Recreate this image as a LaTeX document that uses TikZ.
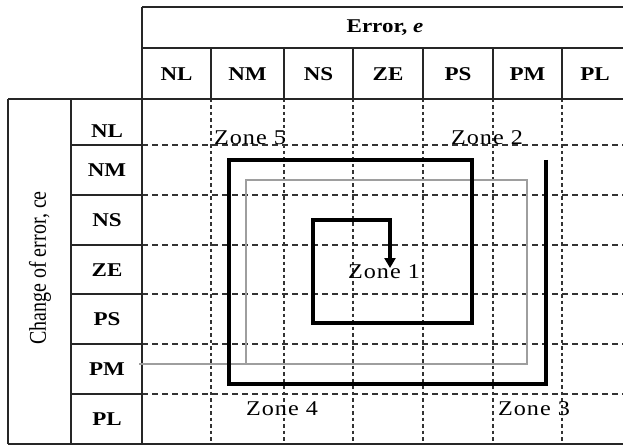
\documentclass[tikz,border=0pt]{standalone}
\usepackage{fontspec}
\setmainfont{Liberation Serif}
\newfontfamily\hdrfont[FakeStretch=1.18]{Liberation Serif}
\newfontfamily\zonefont[FakeStretch=1.15,LetterSpace=5]{Liberation Serif}
\usetikzlibrary{arrows.meta}
\begin{document}
\begin{tikzpicture}[x=1pt,y=-1pt,
  tbl/.style={draw=black!85, line width=1.5pt},
  hdash/.style={draw=black!80, line width=1.4pt, dash pattern=on 6pt off 4pt},
  vdash/.style={draw=black!80, line width=1.4pt, dash pattern=on 3.5pt off 3pt},
  spiralb/.style={draw=black, line width=3.2pt, line join=miter},
  spiralg/.style={draw=black!38, line width=2pt, line join=miter},
  hdr/.style={font=\hdrfont\bfseries\fontsize{19.5}{21}\selectfont, inner sep=0pt},
  zonelbl/.style={font=\zonefont\fontsize{21}{23}\selectfont, anchor=base, inner sep=0pt}]
\path[use as bounding box] (0,0) rectangle (623,446);
\clip (0,0) rectangle (623,446);
\fill[white] (0,0) rectangle (623,446);
% dashed grid
\foreach \y in {145,195,245,294,344,394} \draw[hdash] (142,\y) -- (630,\y);
\foreach \x in {211,284,353,423,493,562} \draw[vdash] (\x,99) -- (\x,444);
% table frame
\draw[tbl] (142,7) -- (630,7);
\draw[tbl] (142,48) -- (630,48);
\draw[tbl] (8,99) -- (630,99);
\draw[tbl] (8,444) -- (630,444);
\draw[tbl] (142,7) -- (142,444);
\draw[tbl] (8,99) -- (8,444);
\draw[tbl] (71,99) -- (71,444);
\foreach \x in {211,284,353,423,493,562} \draw[tbl] (\x,48) -- (\x,99);
\foreach \y in {145,195,245,294,344,394} \draw[tbl] (71,\y) -- (142,\y);
% gray spiral
\draw[spiralg] (139,364) -- (527,364) -- (527,180) -- (246,180) -- (246,364);
% black spiral
\draw[spiralb, -{Triangle[length=10pt,width=11pt]}] (546,160) -- (546,384) -- (229,384) -- (229,160) -- (472,160) -- (472,323) -- (313,323) -- (313,220) -- (390,220) -- (390,268);
% headers
\node[hdr] (err) at (385,28) {Error, \textit{e}};
\foreach \n/\x in {NL/176.5,NM/247.5,NS/318.5,ZE/388,PS/458,PM/527.5,PL/595}
  \node[hdr] (c\n) at (\x,74) {\n};
\foreach \n/\y in {NL/131,NM/170,NS/220,ZE/270,PS/319,PM/369,PL/419}
  \node[hdr] (r\n) at (107,\y) {\n};
\node[rotate=90, font=\fontsize{20}{22}\selectfont, inner sep=0pt] (ce) at (40,268) {\scalebox{1}[1.2]{Change of error, ce}};
% zone labels
\node[zonelbl] (z5) at (250,145) {Zone 5};
\node[zonelbl] (z2) at (487,145) {Zone 2};
\node[zonelbl] (z1) at (384,278) {Zone 1};
\node[zonelbl] (z4) at (282,415) {Zone 4};
\node[zonelbl] (z3) at (534,415) {Zone 3};
\end{tikzpicture}
\end{document}
